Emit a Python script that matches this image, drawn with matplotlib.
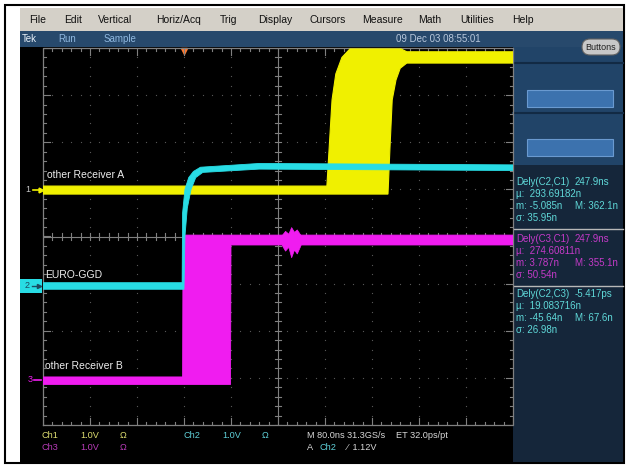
import matplotlib
matplotlib.use('Agg')
import matplotlib.pyplot as plt
import matplotlib.patches as patches
import numpy as np

plt.rcParams['font.family'] = ['Liberation Sans', 'DejaVu Sans']

W, H = 629, 466

# --- trace envelopes (time in divisions, level in divisions) ---
# Ch1 yellow (persistence band, "other Receiver A")
ch1_top_t = [0.0, 6.04, 6.09, 6.15, 6.23, 6.36, 6.53, 7.62, 7.74, 10.0]
ch1_top_v = [1.07, 1.07, 1.90, 2.90, 3.45, 3.80, 3.98, 3.98, 3.92, 3.92]
ch1_bot_t = [10.0, 7.74, 7.60, 7.51, 7.43, 7.38, 7.34, 0.0]
ch1_bot_v = [3.68, 3.68, 3.57, 3.32, 2.90, 1.83, 0.90, 0.90]

# Ch2 cyan ("EURO-GGD")
ch2_top_t = [0.0, 2.96, 2.97, 3.02, 3.10, 3.20, 3.35, 4.60, 10.0]
ch2_top_v = [-0.98, -0.98, 0.50, 1.00, 1.25, 1.38, 1.47, 1.55, 1.52]
ch2_bot_t = [10.0, 4.60, 3.40, 3.25, 3.15, 3.07, 3.02, 3.00, 0.0]
ch2_bot_v = [1.40, 1.43, 1.36, 1.25, 1.00, 0.60, 0.00, -1.12, -1.12]

# Ch3 magenta ("other Receiver B")
ch3_top_t = [0.0, 2.97, 2.98, 10.0]
ch3_top_v = [-2.98, -2.98, 0.03, 0.03]
ch3_bot_t = [10.0, 4.00, 3.99, 0.0]
ch3_bot_v = [-0.18, -0.18, -3.14, -3.14]
ring_t = [5.08, 5.15, 5.22, 5.28, 5.34, 5.40, 5.48]
ring_hi = [0.03, 0.12, 0.06, 0.20, 0.10, 0.15, 0.03]
ring_lo = [-0.18, -0.30, -0.22, -0.44, -0.28, -0.36, -0.18]

menu_items = ['File', 'Edit', 'Vertical', 'Horiz/Acq', 'Trig', 'Display',
              'Cursors', 'Measure', 'Math', 'Utilities', 'Help']
menu_x = [29, 64, 98, 156, 220, 258, 310, 362, 418, 460, 512]

meas_blocks = [
    ('#5fd8d8', ['Dely(C2,C1)', 'µ:  293.69182n', 'm: -5.085n', 'σ: 35.95n'], ['247.9ns', '', 'M: 362.1n', '']),
    ('#c43ac8', ['Dely(C3,C1)', 'µ:  274.60811n', 'm: 3.787n', 'σ: 50.54n'], ['247.9ns', '', 'M: 355.1n', '']),
    ('#5fd8d8', ['Dely(C2,C3)', 'µ:  19.083716n', 'm: -45.64n', 'σ: 26.98n'], ['-5.417ps', '', 'M: 67.6n', '']),
]
meas_y0 = [182, 239, 294]

YEL, CYA, MAG = '#f0f000', '#28dce4', '#f01cf0'

fig = plt.figure(figsize=(W / 100, H / 100), dpi=100)
bg = fig.add_axes([0, 0, 1, 1])
bg.set_xlim(0, W)
bg.set_ylim(H, 0)
bg.axis('off')


def rect(x0, y0, x1, y1, fc, ec='none', lw=0, z=1):
    bg.add_patch(patches.Rectangle((x0, y0), x1 - x0, y1 - y0, facecolor=fc,
                                   edgecolor=ec, linewidth=lw, zorder=z))


# frame and chrome
rect(5, 5, 624, 463, 'white', ec='black', lw=1.5, z=0)
rect(20, 8, 623, 31, '#d4d0c8')
rect(20, 31, 623, 47, '#27496c')
rect(20, 47, 513, 462, 'black')
rect(513, 47, 623, 165, '#214468')
rect(513, 165, 623, 462, '#15263a')
for yy in (63, 113):
    bg.plot([513, 623], [yy, yy], color='#122a44', lw=1.5, zorder=2)
for y0 in (90, 139):
    rect(527, y0, 613, y0 + 17, '#3c72ae', ec='#6a9ad0', lw=0.8, z=2)

# menu bar
for name, x in zip(menu_items, menu_x):
    bg.text(x, 20, name, fontsize=7.5, color='#101010', va='center', ha='left', zorder=3)

# title bar
bg.text(22, 39, 'Tek', fontsize=7, color='#e8f0f8', va='center', zorder=3)
bg.text(58, 39, 'Run', fontsize=7, color='#8fb8e0', va='center', zorder=3)
bg.text(104, 39, 'Sample', fontsize=7, color='#8fb8e0', va='center', zorder=3)
bg.text(396, 39, '09 Dec 03 08:55:01', fontsize=7, color='#b8c8dc', va='center', zorder=3)
bg.add_patch(patches.FancyBboxPatch((582, 39), 38, 16, boxstyle='round,pad=0,rounding_size=8',
                                    facecolor='#c8c8c8', edgecolor='#606060', lw=0.8, zorder=3))
bg.text(601, 47.5, 'Buttons', fontsize=6.5, color='#202020', ha='center', va='center', zorder=4)

# graticule axes in divisions
ga = fig.add_axes([43 / W, (H - 425) / H, 470 / W, 377 / H])
ga.set_xlim(0, 10)
ga.set_ylim(-4, 4)
ga.axis('off')

gc = '#808080'
ga.plot([0, 10, 10, 0, 0], [-4, -4, 4, 4, -4], color=gc, lw=0.9, zorder=2, clip_on=False)
ga.plot([0, 10], [0, 0], color=gc, lw=0.8, zorder=2)
ga.plot([5, 5], [-4, 4], color=gc, lw=0.8, zorder=2)
for x in np.arange(0, 10.01, 0.2):
    major = abs(x - round(x)) < 1e-6
    L = 0.14 if major else 0.07
    ga.plot([x, x], [4, 4 - L], color=gc, lw=0.8, zorder=2)
    ga.plot([x, x], [-4, -4 + L], color=gc, lw=0.8, zorder=2)
    ga.plot([x, x], [-0.07, 0.07], color=gc, lw=0.8, zorder=2)
for y in np.arange(-4, 4.01, 0.2):
    major = abs(y - round(y)) < 1e-6
    L = 0.14 if major else 0.07
    ga.plot([0, L], [y, y], color=gc, lw=0.8, zorder=2)
    ga.plot([10, 10 - L], [y, y], color=gc, lw=0.8, zorder=2)
    ga.plot([4.93, 5.07], [y, y], color=gc, lw=0.8, zorder=2)
dots_x, dots_y = [], []
for i in range(1, 10):
    for y in np.arange(-4, 4.01, 0.2):
        dots_x.append(i)
        dots_y.append(y)
for j in range(-3, 4):
    for x in np.arange(0, 10.01, 0.2):
        dots_x.append(x)
        dots_y.append(j)
ga.scatter(dots_x, dots_y, s=0.8, color='#5a5a5a', zorder=1, linewidths=0)

# traces
ga.fill(ch1_top_t + ch1_bot_t, ch1_top_v + ch1_bot_v, color=YEL, lw=0.8, zorder=3)
ga.fill(ch2_top_t + ch2_bot_t, ch2_top_v + ch2_bot_v, color=CYA, lw=0.6, zorder=5)
ga.fill(ch3_top_t + ch3_bot_t, ch3_top_v + ch3_bot_v, color=MAG, lw=0.6, zorder=4)
ga.fill_between(ring_t, ring_lo, ring_hi, color=MAG, lw=0.5, zorder=4)

# trace labels
bg.text(47, 175, 'other Receiver A', fontsize=7.5, color='#eeeeee', va='center', zorder=6)
bg.text(45, 275, 'EURO-GGD', fontsize=7.5, color='#eeeeee', va='center', zorder=6)
bg.text(45, 366, 'other Receiver B', fontsize=7.5, color='#eeeeee', va='center', zorder=6)

# channel ground markers
bg.text(28, 190, '1', fontsize=6.5, color='#c8c8c8', va='center', ha='center', zorder=6)
bg.plot([33, 41], [190, 190], color=YEL, lw=1.2, zorder=6)
bg.plot(41, 190, marker='>', color=YEL, ms=3.5, zorder=6)
rect(20, 279, 42, 293, CYA, z=6)
bg.text(27, 286, '2', fontsize=6.5, color='#1a4a60', va='center', ha='center', zorder=7)
bg.plot([32, 39], [286, 286], color='#1a4a60', lw=1, zorder=7)
bg.plot(39, 286, marker='>', color='#1a4a60', ms=3, zorder=7)
bg.text(30, 380, '3', fontsize=6.5, color=MAG, va='center', ha='center', zorder=6)
bg.plot([34, 41], [380, 380], color=MAG, lw=1.2, zorder=6)

# trigger position marker
bg.plot(184, 51, marker='v', color='#ff7a30', ms=5, zorder=7)

# measurement readouts
for (col, left, right), y0 in zip(meas_blocks, meas_y0):
    for k in range(4):
        bg.text(516, y0 + k * 12, left[k], fontsize=7, color=col, va='center', zorder=6)
        if right[k]:
            bg.text(575, y0 + k * 12, right[k], fontsize=7, color=col, va='center', zorder=6)
for yy in (229, 286):
    bg.plot([514, 623], [yy, yy], color='#b8b8b8', lw=1, zorder=6)

# status line
fs = 6.6
bg.text(42, 436, 'Ch1', fontsize=fs, color='#dede70', va='center', zorder=6)
bg.text(80, 436, '1.0V', fontsize=fs, color='#dede70', va='center', zorder=6)
bg.text(120, 436, 'Ω', fontsize=fs, color='#dede70', va='center', zorder=6)
bg.text(184, 436, 'Ch2', fontsize=fs, color='#5fd0d8', va='center', zorder=6)
bg.text(222, 436, '1.0V', fontsize=fs, color='#5fd0d8', va='center', zorder=6)
bg.text(262, 436, 'Ω', fontsize=fs, color='#5fd0d8', va='center', zorder=6)
bg.text(307, 436, 'M 80.0ns 31.3GS/s', fontsize=fs, color='#d8d8d8', va='center', zorder=6)
bg.text(396, 436, 'ET 32.0ps/pt', fontsize=fs, color='#d8d8d8', va='center', zorder=6)
bg.text(42, 447, 'Ch3', fontsize=fs, color='#b83cb8', va='center', zorder=6)
bg.text(80, 447, '1.0V', fontsize=fs, color='#b83cb8', va='center', zorder=6)
bg.text(120, 447, 'Ω', fontsize=fs, color='#b83cb8', va='center', zorder=6)
bg.text(307, 447, 'A', fontsize=fs, color='#d8d8d8', va='center', zorder=6)
bg.text(319, 447, 'Ch2', fontsize=fs, color='#5fd0d8', va='center', zorder=6)
bg.text(347, 447, '⁄  1.12V', fontsize=fs, color='#d8d8d8', va='center', zorder=6)

fig.savefig('out.png', dpi=100)
